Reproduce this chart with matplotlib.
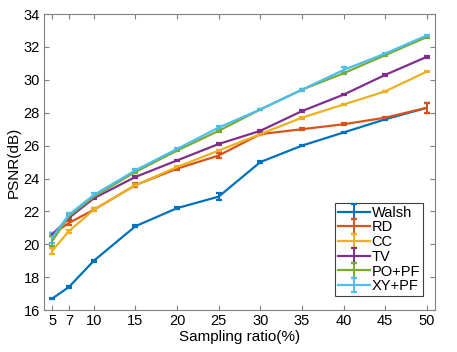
import matplotlib.pyplot as plt

plt.rcParams['font.family'] = ['Liberation Sans', 'DejaVu Sans']

ratio = [5, 7, 10, 15, 20, 25, 30, 35, 40, 45, 50]

walsh = [16.7, 17.4, 19.0, 21.1, 22.2, 22.9, 25.0, 26.0, 26.8, 27.6, 28.3]
rd = [20.6, 21.3, 22.1, 23.6, 24.6, 25.4, 26.7, 27.0, 27.3, 27.7, 28.3]
cc = [19.6, 20.8, 22.1, 23.6, 24.7, 25.7, 26.7, 27.7, 28.5, 29.3, 30.5]
tv = [20.6, 21.6, 22.8, 24.1, 25.1, 26.1, 26.9, 28.1, 29.1, 30.3, 31.4]
popf = [20.2, 21.7, 22.9, 24.4, 25.7, 26.9, 28.2, 29.4, 30.4, 31.5, 32.6]
xypf = [20.4, 21.8, 23.0, 24.5, 25.8, 27.1, 28.2, 29.4, 30.6, 31.6, 32.7]

walsh_err = [0.05, 0.05, 0.05, 0.05, 0.05, 0.2, 0.05, 0.05, 0.05, 0.05, 0.3]
rd_err = [0.1, 0.1, 0.1, 0.1, 0.1, 0.15, 0.05, 0.05, 0.05, 0.05, 0.3]
cc_err = [0.2, 0.1, 0.1, 0.05, 0.05, 0.05, 0.05, 0.05, 0.05, 0.05, 0.05]
tv_err = [0.1, 0.05, 0.05, 0.05, 0.05, 0.05, 0.05, 0.05, 0.05, 0.05, 0.05]
popf_err = [0.3, 0.1, 0.05, 0.05, 0.05, 0.05, 0.05, 0.05, 0.05, 0.05, 0.05]
xypf_err = [0.3, 0.1, 0.1, 0.05, 0.05, 0.1, 0.05, 0.05, 0.2, 0.05, 0.05]

names = ['Walsh', 'RD', 'CC', 'TV', 'PO+PF', 'XY+PF']
series = [walsh, rd, cc, tv, popf, xypf]
errors = [walsh_err, rd_err, cc_err, tv_err, popf_err, xypf_err]
colors = ['#0072BD', '#D95319', '#EDB120', '#7E2F8E', '#77AC30', '#4DBEEE']

fig = plt.figure(figsize=(4.57, 3.52), dpi=100)
ax = fig.add_axes([0.096, 0.119, 0.856, 0.841])

for name, vals, err, c in zip(names, series, errors, colors):
    ax.errorbar(ratio, vals, yerr=err, color=c, lw=1.6, capsize=2.5,
                elinewidth=1.4, capthick=1.6, label=name)

ax.set_xlim(4, 51)
ax.set_ylim(16, 34)
ax.set_xticks(ratio)
ax.set_yticks(range(16, 35, 2))
ax.set_xlabel('Sampling ratio(%)', fontsize=11, labelpad=1)
ax.set_ylabel('PSNR(dB)', fontsize=11, labelpad=2)
ax.tick_params(direction='in', top=True, right=True, labelsize=10.5,
               color='#808080', length=3.5, pad=3)
for s in ax.spines.values():
    s.set_color('#808080')

# legend box placed in the lower right, like the original
leg = ax.legend(loc='lower right', bbox_to_anchor=(0.969, 0.047), borderaxespad=0,
                fontsize=10.5, fancybox=False, framealpha=1,
                edgecolor='#404040', borderpad=0.2, labelspacing=0.05,
                handlelength=2.2, handletextpad=0.1)
leg.get_frame().set_linewidth(0.8)

fig.savefig('out.png', dpi=100)
